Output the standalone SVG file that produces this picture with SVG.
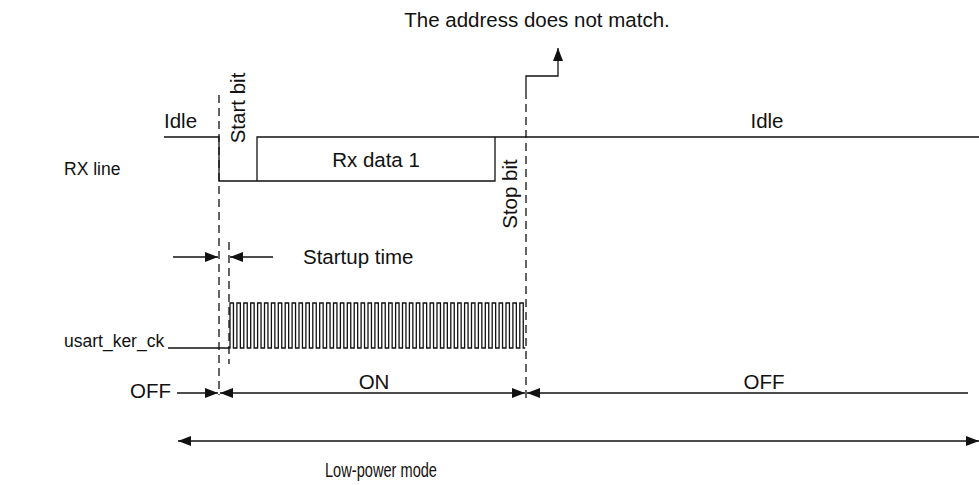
<svg xmlns="http://www.w3.org/2000/svg" width="979" height="485" viewBox="0 0 979 485">
<style>
text{font-family:"Liberation Sans",Arial,sans-serif;font-size:20.5px;fill:#111}
text.lbl{font-size:17.5px}
.ln{fill:none;stroke:#111;stroke-width:1.3}
.dash{fill:none;stroke:#111;stroke-width:1.3;stroke-dasharray:8 5}
</style>
<defs>
<marker id="ah" markerUnits="userSpaceOnUse" markerWidth="14" markerHeight="12" refX="13" refY="5" orient="auto-start-reverse" viewBox="0 0 14 10">
<path d="M0,0 L13,5 L0,10 Z" fill="#111"/>
</marker>
</defs>
<rect width="979" height="485" fill="#fff"/>
<g id="connectors">
<line class="dash" x1="219" y1="95" x2="219" y2="395"/>
<line class="dash" x1="229" y1="242" x2="229" y2="364"/>
<line class="dash" x1="526" y1="91" x2="526" y2="400"/>
<polyline class="ln" points="526,91 526,76 558,76 558,48" marker-end="url(#ah)"/>
<line class="ln" x1="173" y1="257" x2="218" y2="257" marker-end="url(#ah)"/>
<line class="ln" x1="273" y1="257" x2="230" y2="257" marker-end="url(#ah)"/>
<line class="ln" x1="177" y1="393" x2="218" y2="393" marker-end="url(#ah)"/>
<line class="ln" x1="220" y1="393" x2="525" y2="393" marker-start="url(#ah)" marker-end="url(#ah)"/>
<line class="ln" x1="527" y1="393" x2="968" y2="393" marker-start="url(#ah)"/>
<line class="ln" x1="178" y1="441" x2="979" y2="441" marker-start="url(#ah)" marker-end="url(#ah)"/>
</g>
<g id="rx-line">
<path class="ln" d="M164,137 H219 V181 H495 V137 M257,181 V137 H979"/>
<text class="lbl" x="64" y="175">RX line</text>
<text x="164" y="128">Idle</text>
<text x="767" y="128" text-anchor="middle">Idle</text>
<text x="376" y="167" text-anchor="middle">Rx data 1</text>
<text transform="translate(245,108) rotate(-90)" text-anchor="middle">Start bit</text>
<text transform="translate(517,194) rotate(-90)" text-anchor="middle">Stop bit</text>
</g>
<g id="clock">
<path class="ln" d="M168,348 H230 V303
h3.45v45h3.45v-45 h3.45v45h3.45v-45 h3.45v45h3.45v-45 h3.45v45h3.45v-45 h3.45v45h3.45v-45
h3.45v45h3.45v-45 h3.45v45h3.45v-45 h3.45v45h3.45v-45 h3.45v45h3.45v-45 h3.45v45h3.45v-45
h3.45v45h3.45v-45 h3.45v45h3.45v-45 h3.45v45h3.45v-45 h3.45v45h3.45v-45 h3.45v45h3.45v-45
h3.45v45h3.45v-45 h3.45v45h3.45v-45 h3.45v45h3.45v-45 h3.45v45h3.45v-45 h3.45v45h3.45v-45
h3.45v45h3.45v-45 h3.45v45h3.45v-45 h3.45v45h3.45v-45 h3.45v45h3.45v-45 h3.45v45h3.45v-45
h3.45v45h3.45v-45 h3.45v45h3.45v-45 h3.45v45h3.45v-45 h3.45v45h3.45v-45 h3.45v45h3.45v-45
h3.45v45h3.45v-45 h3.45v45h3.45v-45 h3.45v45h3.45v-45 h3.45v45h3.45v-45 h3.45v45h3.45v-45
h3.45v45h3.45v-45 h3.45v45h3.45v-45 h3.45v45h3.45v-45 h3.45v45h3.45v-45 h3.45v45h3.45v-45
h3.45v45h3.45v-45 h3.45v45h3.45v-45
h3.45v45h2"/>
<text class="lbl" x="64" y="347">usart_ker_ck</text>
<text x="303" y="264">Startup time</text>
</g>
<g id="power">
<text x="130" y="398">OFF</text>
<text x="374" y="389" text-anchor="middle">ON</text>
<text x="764" y="389" text-anchor="middle">OFF</text>
<text x="381" y="477" text-anchor="middle" font-size="19" textLength="112" lengthAdjust="spacingAndGlyphs">Low-power mode</text>
</g>
<g id="note">
<text x="537" y="27" text-anchor="middle" font-size="21.5">The address does not match.</text>
</g>
</svg>
